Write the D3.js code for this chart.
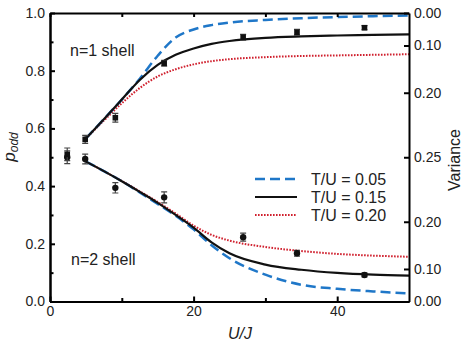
<!DOCTYPE html>
<html>
<head>
<meta charset="utf-8">
<script src="https://cdn.jsdelivr.net/npm/d3@7"></script>
<style>
  body { margin: 0; background: #fff; }
  svg text { font-family: "Liberation Sans", Arial, sans-serif; fill: #222; }
  .axis path, .axis line { stroke: #000; stroke-width: 2; }
  .axis text { font-size: 14px; }
</style>
</head>
<body>
<div id="chart"></div>
<script>
// measured points (U/J, p_odd, error)
var pointUJ = [2.4, 4.9, 9.1, 15.9, 26.9, 34.4, 43.8];
var n1Odd = [0.510, 0.562, 0.637, 0.826, 0.916, 0.933, 0.949];
var n1Err = [0.022, 0.014, 0.015, 0.010, 0.010, 0.010, 0.007];
var n2Odd = [0.500, 0.494, 0.394, 0.361, 0.223, 0.167, 0.092];
var n2Err = [0.022, 0.017, 0.018, 0.019, 0.014, 0.010, 0.007];

// theory curves
var curveUJ = [5, 7.5, 10, 12.5, 15, 17.5, 20, 22.5, 25, 30, 35, 40, 45, 50];
var n1Curve005 = [0.565, 0.632, 0.700, 0.772, 0.852, 0.915, 0.943, 0.958, 0.967, 0.976, 0.982, 0.986, 0.989, 0.991];
var n1Curve015 = [0.565, 0.632, 0.700, 0.768, 0.820, 0.855, 0.877, 0.893, 0.903, 0.914, 0.919, 0.922, 0.924, 0.926];
var n1Curve020 = [0.565, 0.627, 0.687, 0.740, 0.780, 0.805, 0.822, 0.833, 0.840, 0.847, 0.851, 0.853, 0.855, 0.857];
var n2Curve005 = [0.485, 0.452, 0.417, 0.378, 0.338, 0.297, 0.250, 0.195, 0.150, 0.093, 0.058, 0.044, 0.035, 0.028];
var n2Curve015 = [0.485, 0.452, 0.417, 0.380, 0.342, 0.300, 0.256, 0.205, 0.167, 0.128, 0.110, 0.099, 0.093, 0.090];
var n2Curve020 = [0.485, 0.452, 0.418, 0.382, 0.345, 0.305, 0.263, 0.231, 0.211, 0.189, 0.175, 0.165, 0.159, 0.155];

var legendLabels = ["T/U = 0.05", "T/U = 0.15", "T/U = 0.20"];
var xTicks = [0, 20, 40];
var xMinorTicks = [10, 30];
var yTicks = [0, 0.2, 0.4, 0.6, 0.8, 1.0];
var yMinorTicks = [0.1, 0.3, 0.5, 0.7, 0.9];
var varUpperTicks = [0.00, 0.10, 0.20, 0.25];
var varLowerTicks = [0.20, 0.10, 0.00];

var styles = [
  {color: "#1f77c8", width: 2.5, dash: "10,5"},
  {color: "#111111", width: 2.2, dash: null},
  {color: "#d0202e", width: 2, dash: "1.6,1.4"}
];

var width = 464, height = 345;
var margin = {top: 13, right: 55, bottom: 43.5, left: 50};
var w = width - margin.left - margin.right,
  h = height - margin.top - margin.bottom;

var svg = d3.select("#chart").append("svg")
  .attr("width", width)
  .attr("height", height)
  .append("g")
  .attr("transform", "translate(" + margin.left + "," + margin.top + ")");

var x = d3.scaleLinear().domain([0, 50]).range([0, w]);
var y = d3.scaleLinear().domain([0, 1]).range([h, 0]);

// curves
var line = d3.line()
  .x(function(d) { return x(d[0]); })
  .y(function(d) { return y(d[1]); })
  .curve(d3.curveMonotoneX);

function drawCurve(vals, s) {
  var pts = curveUJ.map(function(u, i) { return [u, vals[i]]; });
  var p = svg.append("path")
    .datum(pts)
    .attr("d", line)
    .attr("fill", "none")
    .attr("stroke", s.color)
    .attr("stroke-width", s.width);
  if (s.dash) p.attr("stroke-dasharray", s.dash);
}
drawCurve(n1Curve020, styles[2]);
drawCurve(n2Curve020, styles[2]);
drawCurve(n1Curve005, styles[0]);
drawCurve(n2Curve005, styles[0]);
drawCurve(n1Curve015, styles[1]);
drawCurve(n2Curve015, styles[1]);

// error bars and markers
function drawPoints(vals, errs, shape) {
  var g = svg.append("g");
  var pts = pointUJ.map(function(u, i) { return {u: u, p: vals[i], e: errs[i]}; });
  g.selectAll(".eb").data(pts).enter().append("path")
    .attr("d", function(d) {
      var cx = x(d.u), t = y(d.p + d.e), b = y(d.p - d.e);
      return "M" + (cx - 3) + "," + t + "H" + (cx + 3) +
        "M" + cx + "," + t + "V" + b +
        "M" + (cx - 3) + "," + b + "H" + (cx + 3);
    })
    .attr("stroke", "#444")
    .attr("stroke-width", 1.2)
    .attr("fill", "none");
  if (shape == "square") {
    g.selectAll(".m").data(pts).enter().append("rect")
      .attr("x", function(d) { return x(d.u) - 2.8; })
      .attr("y", function(d) { return y(d.p) - 2.8; })
      .attr("width", 5.6)
      .attr("height", 5.6)
      .attr("fill", "#111");
  } else {
    g.selectAll(".m").data(pts).enter().append("circle")
      .attr("cx", function(d) { return x(d.u); })
      .attr("cy", function(d) { return y(d.p); })
      .attr("r", 3.2)
      .attr("fill", "#111");
  }
}
drawPoints(n2Odd, n2Err, "circle");
drawPoints(n1Odd, n1Err, "square");

// axes
svg.append("g").attr("class", "axis")
  .attr("transform", "translate(0," + h + ")")
  .call(d3.axisBottom(x).tickValues(xTicks).tickSize(-5).tickSizeOuter(0).tickPadding(5)
    .tickFormat(d3.format("d")));
svg.append("g").attr("class", "axis")
  .attr("transform", "translate(0," + h + ")")
  .call(d3.axisBottom(x).tickValues(xMinorTicks).tickSize(-3.5).tickSizeOuter(0).tickFormat(""));
svg.append("g").attr("class", "axis")
  .call(d3.axisTop(x).tickValues(xTicks.concat(xMinorTicks)).tickSize(-4).tickSizeOuter(0).tickFormat(""));

svg.append("g").attr("class", "axis")
  .call(d3.axisLeft(y).tickValues(yTicks).tickSize(-5).tickSizeOuter(0).tickPadding(5)
    .tickFormat(d3.format(".1f")));
svg.append("g").attr("class", "axis")
  .call(d3.axisLeft(y).tickValues(yMinorTicks).tickSize(-3.5).tickSizeOuter(0).tickFormat(""));

// right axis: variance p(1-p) of the same p_odd
var varTicks = [];
varUpperTicks.forEach(function(v) {
  varTicks.push({p: (1 + Math.sqrt(1 - 4 * v)) / 2, v: v});
});
varLowerTicks.forEach(function(v) {
  varTicks.push({p: (1 - Math.sqrt(1 - 4 * v)) / 2, v: v});
});
svg.append("g").attr("class", "axis")
  .attr("transform", "translate(" + w + ",0)")
  .call(d3.axisRight(y).tickValues(varTicks.map(function(d) { return d.p; }))
    .tickSize(-5).tickSizeOuter(0).tickPadding(5)
    .tickFormat(function(p, i) { return d3.format(".2f")(varTicks[i].v); }));

// axis titles
svg.append("text")
  .attr("x", 190)
  .attr("y", h + 37)
  .style("text-anchor", "middle")
  .style("font-size", "16px")
  .style("font-style", "italic")
  .text("U/J");

var yl = svg.append("text")
  .attr("transform", "translate(" + (15 - margin.left) + "," + (147 - margin.top) + ") rotate(-90)")
  .style("text-anchor", "middle")
  .style("font-style", "italic")
  .style("font-size", "17px");
yl.append("tspan").text("p");
yl.append("tspan").attr("dy", 3).style("font-size", "12px").text("odd");

svg.append("text")
  .attr("transform", "translate(" + (460 - margin.left) + "," + (160 - margin.top) + ") rotate(-90)")
  .style("text-anchor", "middle")
  .style("font-size", "16px")
  .text("Variance");

// shell labels
svg.append("text").attr("x", 20).attr("y", 43).style("font-size", "16px").text("n=1 shell");
svg.append("text").attr("x", 21).attr("y", 252).style("font-size", "16px").text("n=2 shell");

// legend
var legend = svg.append("g").attr("transform", "translate(205,166)");
legendLabels.forEach(function(lab, i) {
  var s = styles[i];
  var ln = legend.append("line")
    .attr("x1", 0).attr("x2", 42)
    .attr("y1", i * 18).attr("y2", i * 18)
    .attr("stroke", s.color)
    .attr("stroke-width", s.width);
  if (s.dash) ln.attr("stroke-dasharray", s.dash);
  legend.append("text")
    .attr("x", 56)
    .attr("y", i * 18 + 5.5)
    .style("font-size", "16px")
    .text(lab);
});
</script>
</body>
</html>
